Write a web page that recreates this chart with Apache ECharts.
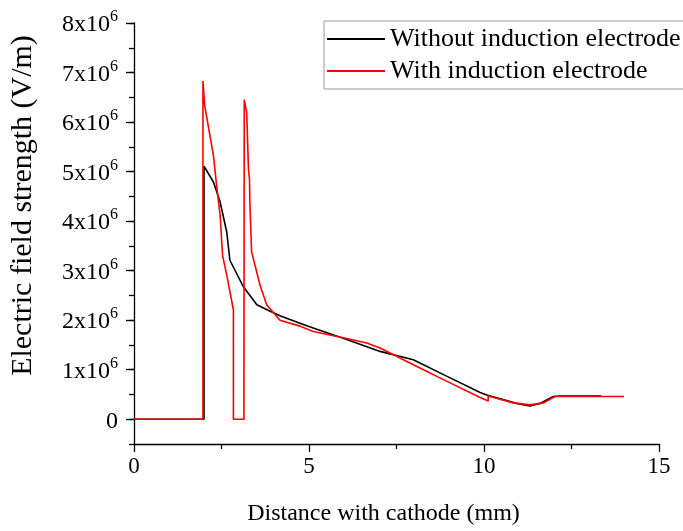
<!DOCTYPE html>
<html>
<head>
<meta charset="utf-8">
<script src="https://cdn.jsdelivr.net/npm/echarts@6/dist/echarts.min.js"></script>
<style>html,body{margin:0;padding:0;background:#fff;width:683px;height:531px;overflow:hidden}#c{position:absolute;left:0;top:0;width:683px;height:531px}</style>
</head>
<body>
<div id="c"></div>
<script>
// Values in units of 1x10^6 V/m, distance in mm
const seriesNames = ['Without induction electrode', 'With induction electrode'];
const blackX = [0, 2.0, 2.0, 2.27, 2.46, 2.65, 2.74, 3.12, 3.51, 3.89, 4.17, 4.74, 5.12, 6.08, 7.03, 7.98, 8.93, 9.89, 10.08, 10.93, 11.31, 11.6, 11.98, 12.17, 13.35];
const blackY = [0, 0, 5.11, 4.79, 4.39, 3.78, 3.21, 2.68, 2.31, 2.18, 2.09, 1.94, 1.84, 1.61, 1.37, 1.20, 0.87, 0.54, 0.49, 0.32, 0.27, 0.32, 0.46, 0.47, 0.47];
const redX = [0, 1.97, 1.97, 2.02, 2.27, 2.36, 2.46, 2.53, 2.65, 2.84, 2.84, 3.14, 3.15, 3.22, 3.27, 3.30, 3.31, 3.36, 3.6, 3.79, 4.17, 4.74, 5.12, 6.08, 6.65, 7.03, 7.5, 7.98, 8.93, 9.89, 10.12, 10.12, 10.84, 11.31, 11.7, 12.03, 14.0];
const redY = [0, 0, 6.83, 6.33, 5.32, 4.72, 4.12, 3.31, 2.91, 2.21, 0, 0, 6.45, 6.19, 5.05, 4.85, 4.39, 3.38, 2.71, 2.31, 2.0, 1.88, 1.77, 1.63, 1.54, 1.44, 1.27, 1.10, 0.77, 0.44, 0.37, 0.47, 0.33, 0.29, 0.33, 0.46, 0.46];
const yTickValues = [0, 1, 2, 3, 4, 5, 6, 7, 8];

const zip = (xs, ys) => xs.map((x, i) => [x, ys[i]]);
const FONT = 'Liberation Serif';

const chart = echarts.init(document.getElementById('c'), null, {renderer: 'canvas', width: 683, height: 531});
chart.setOption({
  animation: false,
  backgroundColor: '#fff',
  grid: {left: 134, right: 24, top: 23, bottom: 84, containLabel: false},
  legend: {
    orient: 'vertical', left: 324, top: 21,
    padding: [5, 60, 5, 3], itemGap: 6,
    itemWidth: 58, itemHeight: 2,
    icon: 'rect',
    borderColor: '#999', borderWidth: 1,
    textStyle: {fontFamily: FONT, fontSize: 26, color: '#000', lineHeight: 26},
    data: seriesNames
  },
  xAxis: {
    type: 'value', min: 0, max: 15, interval: 5,
    name: 'Distance with cathode (mm)', nameLocation: 'middle', nameGap: 58,
    nameTextStyle: {fontFamily: FONT, fontSize: 24, color: '#000', padding: [0, 26, 0, 0]},
    axisLine: {show: true, onZero: false, lineStyle: {color: '#000', width: 1.3}},
    axisTick: {show: true, length: 8, lineStyle: {color: '#000', width: 1.3}},
    minorTick: {show: true, splitNumber: 2, length: 5, lineStyle: {color: '#000', width: 1.3}},
    axisLabel: {fontFamily: FONT, fontSize: 23, color: '#000', margin: 11},
    splitLine: {show: false}
  },
  yAxis: [{
    type: 'value', min: -0.5, max: 8,
    name: 'Electric field strength (V/m)', nameLocation: 'middle', nameGap: 96,
    nameTextStyle: {fontFamily: FONT, fontSize: 30, color: '#000', padding: [0, 0, 0, 56]},
    axisLine: {show: true, onZero: false, lineStyle: {color: '#000', width: 1.3}},
    axisTick: {show: true, length: 8, customValues: yTickValues, lineStyle: {color: '#000', width: 1.3}},
    axisLabel: {
      customValues: yTickValues, margin: 16,
      formatter: v => v === 0 ? '{b|0}' : '{b|' + v + 'x10}{s|6}',
      rich: {
        b: {fontFamily: FONT, fontSize: 24, color: '#000', lineHeight: 28, padding: [4, 0, 0, 0]},
        s: {fontFamily: FONT, fontSize: 16, color: '#000', verticalAlign: 'top'}
      }
    },
    splitLine: {show: false}
  }, {
    type: 'value', min: -0.5, max: 8, interval: 0.5, position: 'left',
    axisLine: {show: false},
    axisTick: {show: true, length: 5, lineStyle: {color: '#000', width: 1.3}},
    axisLabel: {show: false},
    splitLine: {show: false}
  }],
  series: [{
    name: seriesNames[0], type: 'line', yAxisIndex: 0,
    data: zip(blackX, blackY), symbol: 'none', smooth: false,
    lineStyle: {color: '#000', width: 1.6}, itemStyle: {color: '#000'}
  }, {
    name: seriesNames[1], type: 'line', yAxisIndex: 0,
    data: zip(redX, redY), symbol: 'none', smooth: false,
    lineStyle: {color: '#ff0000', width: 1.6}, itemStyle: {color: '#ff0000'}
  }]
});
</script>
</body>
</html>
